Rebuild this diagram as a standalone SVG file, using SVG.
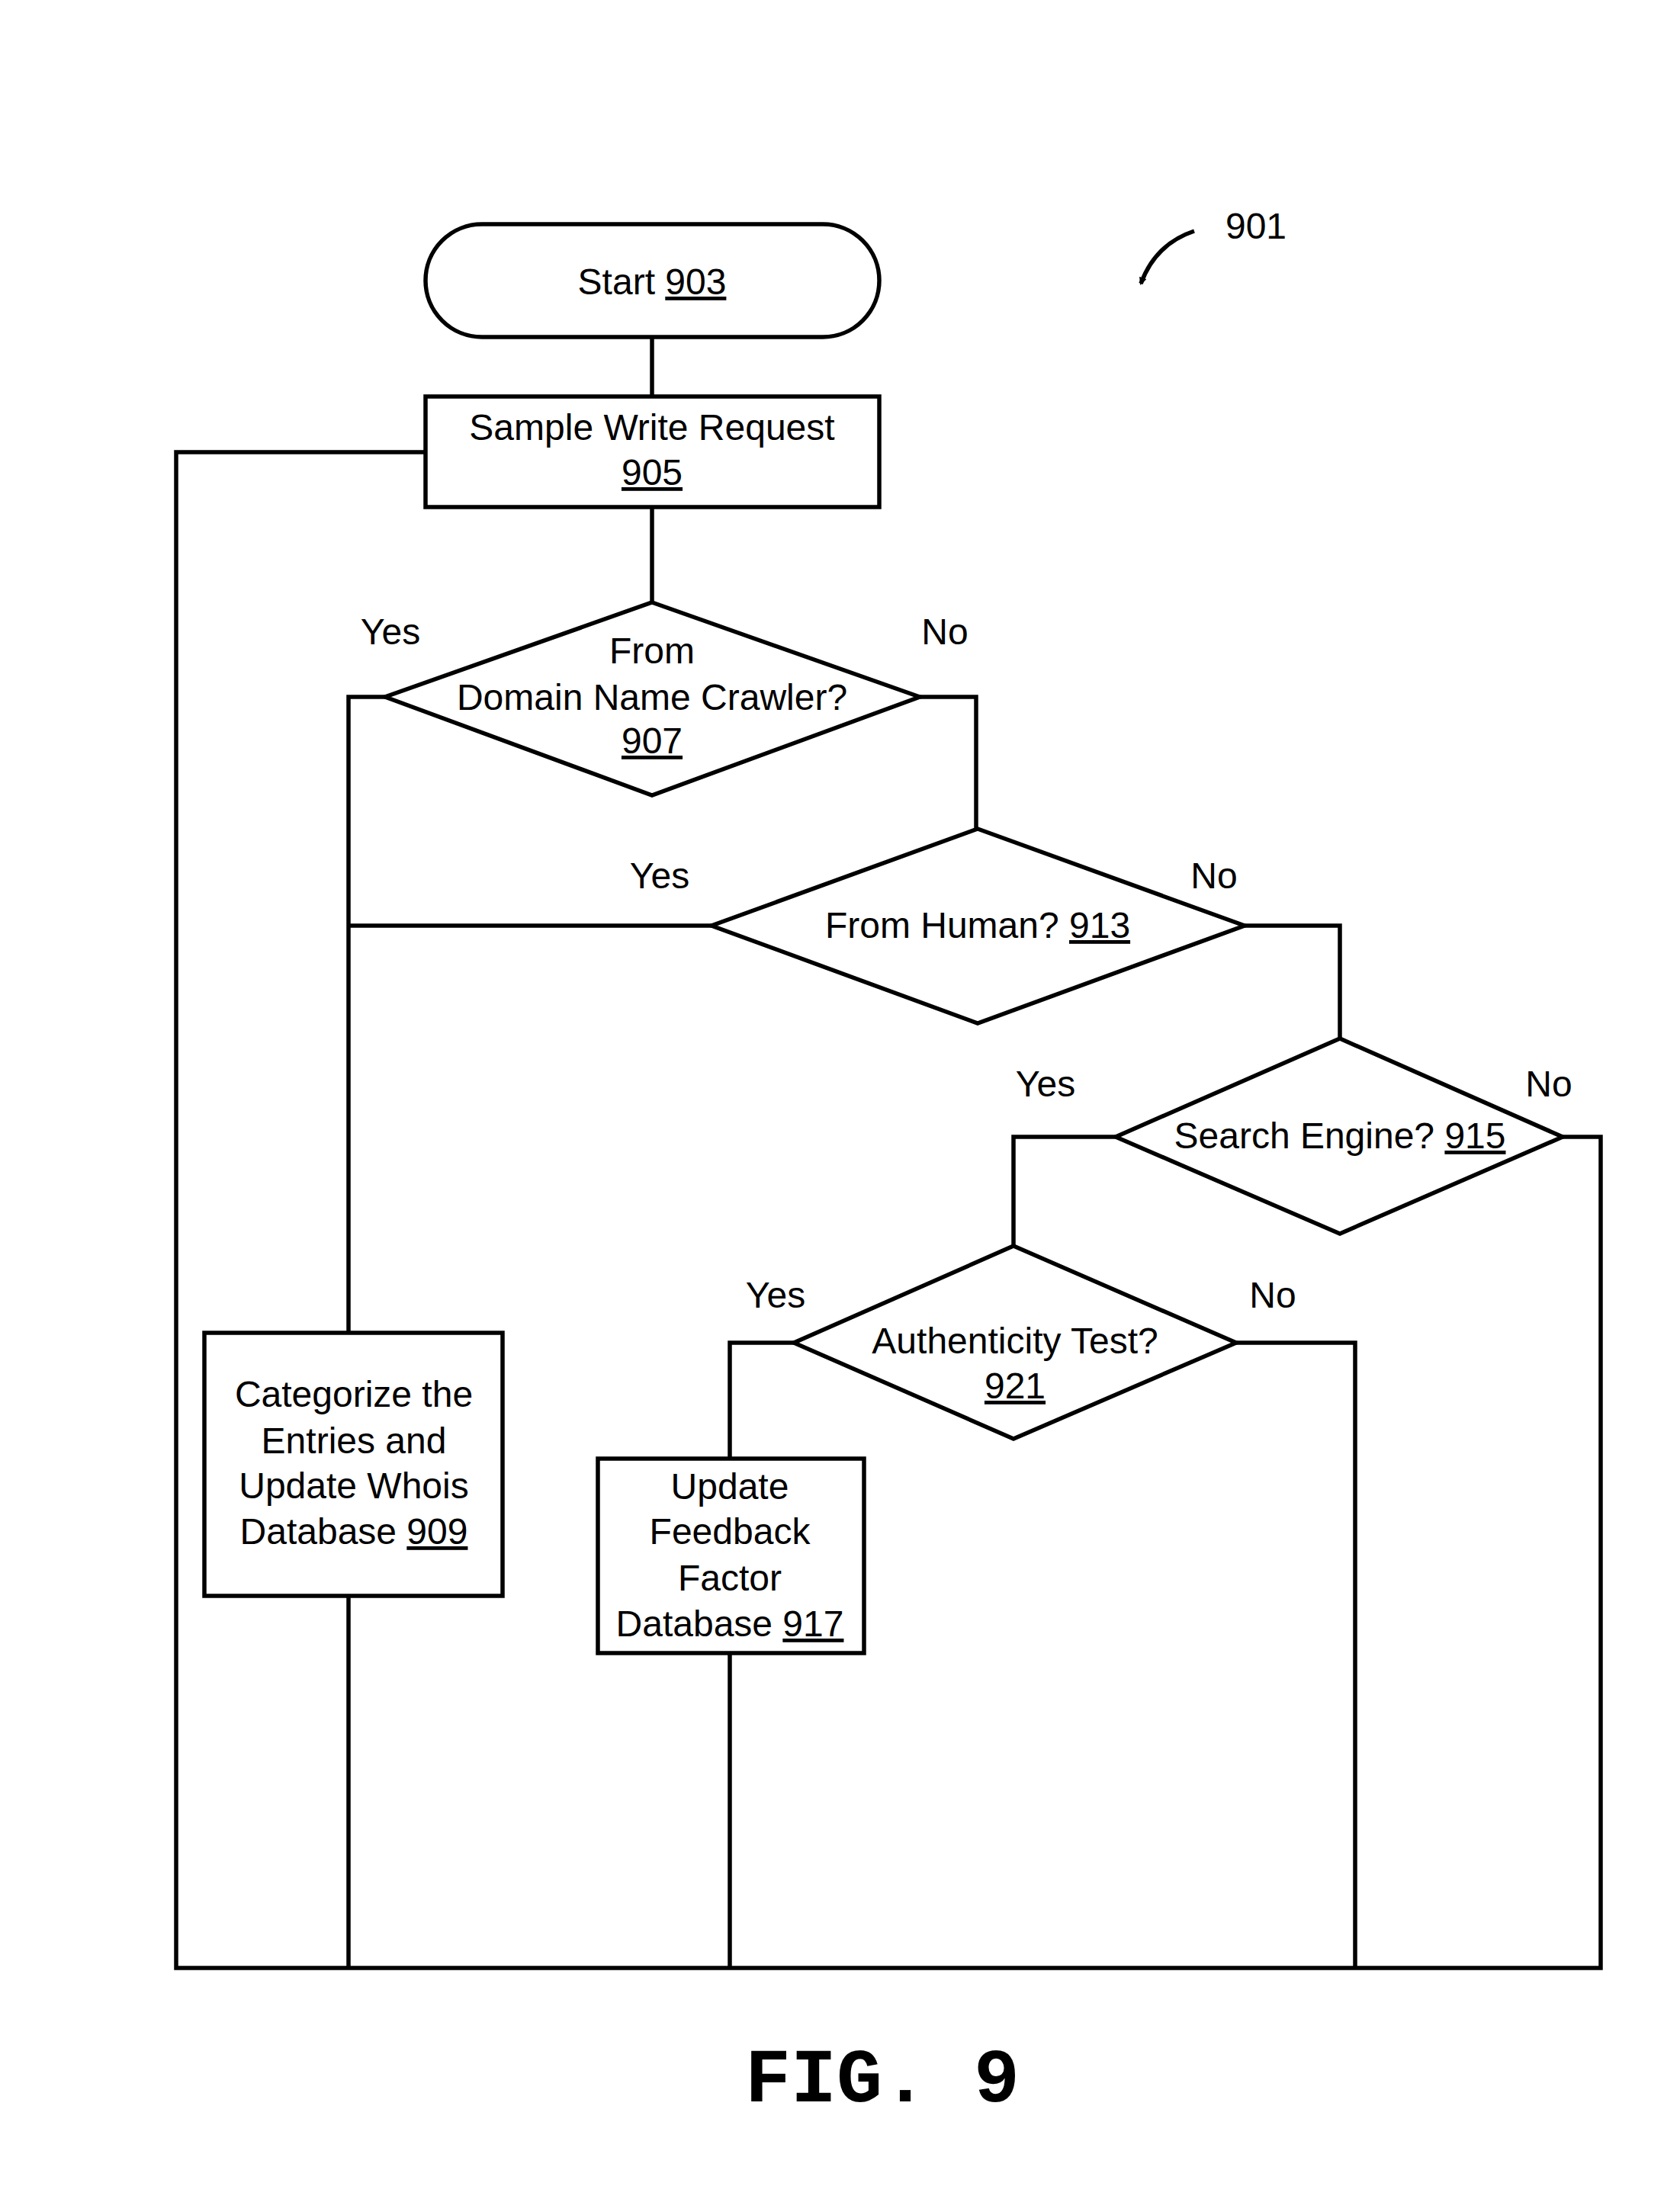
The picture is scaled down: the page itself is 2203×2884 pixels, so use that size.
<svg xmlns="http://www.w3.org/2000/svg" width="2203" height="2884" viewBox="0 0 2203 2884">
<style>
.s{fill:none;stroke:#000;stroke-width:5.5}
text{font-family:"Liberation Sans",Arial,sans-serif;font-size:48px;text-anchor:middle;fill:#000}
.u{text-decoration:underline}
</style>
<defs><marker id="ah" markerWidth="10" markerHeight="10" refX="8" refY="5" orient="auto" markerUnits="userSpaceOnUse" viewBox="0 0 10 10"><path d="M0,0 L10,5 L0,10 z" fill="#000"/></marker></defs>
<rect width="2203" height="2884" fill="#fff"/>
<g id="connectors" class="s">
<path d="M855,442 V520"/>
<path d="M855,665 V790"/>
<path d="M558,593 H231 V2581 H2099 V1491 H2049"/>
<path d="M505,914 H457 V1748"/>
<path d="M933,1214 H457"/>
<path d="M1206,914 H1280 V1087"/>
<path d="M1632,1214 H1757 V1362"/>
<path d="M1463,1491 H1329 V1634"/>
<path d="M1041,1761 H957 V1913"/>
<path d="M1621,1761 H1777 V2581"/>
<path d="M957,2168 V2581"/>
<path d="M457,2093 V2581"/>
</g>
<g id="n903"><rect class="s" x="558" y="294" width="595" height="148" rx="74"/><text x="855" y="386">Start <tspan class="u">903</tspan></text></g>
<g id="n905"><rect class="s" x="558" y="520" width="595" height="145"/><text x="855" y="577">Sample Write Request</text><text x="855" y="636" class="u">905</text></g>
<g id="n907"><polygon class="s" points="855,790 1206,914 855,1043 505,914"/><text x="855" y="870">From</text><text x="855" y="931">Domain Name Crawler?</text><text x="855" y="988" class="u">907</text></g>
<g id="n913"><polygon class="s" points="1282,1087 1632,1214 1282,1342 933,1214"/><text x="1282" y="1230">From Human? <tspan class="u">913</tspan></text></g>
<g id="n915"><polygon class="s" points="1757,1362 2049,1491 1757,1618 1463,1491"/><text x="1757" y="1506">Search Engine? <tspan class="u">915</tspan></text></g>
<g id="n921"><polygon class="s" points="1329,1634 1621,1761 1329,1887 1041,1761"/><text x="1331" y="1775">Authenticity Test?</text><text x="1331" y="1834" class="u">921</text></g>
<g id="n909"><rect class="s" x="268" y="1748" width="391" height="345"/><text x="464" y="1845">Categorize the</text><text x="464" y="1906">Entries and</text><text x="464" y="1965">Update Whois</text><text x="464" y="2025">Database <tspan class="u">909</tspan></text></g>
<g id="n917"><rect class="s" x="784" y="1913" width="349" height="255"/><text x="957" y="1966">Update</text><text x="957" y="2025">Feedback</text><text x="957" y="2086">Factor</text><text x="957" y="2146">Database <tspan class="u">917</tspan></text></g>
<g id="labels">
<text x="512" y="845">Yes</text><text x="1239" y="845">No</text>
<text x="865" y="1165">Yes</text><text x="1592" y="1165">No</text>
<text x="1371" y="1438">Yes</text><text x="2031" y="1438">No</text>
<text x="1017" y="1715">Yes</text><text x="1669" y="1715">No</text>
<text x="1647" y="313">901</text>
<path d="M1566,303 Q1515,320 1496,372" class="s" marker-end="url(#ah)"/>
<text x="1157" y="2756" style="font-size:100px;font-weight:bold;font-family:'Liberation Mono',monospace">FIG. 9</text>
</g>
</svg>
